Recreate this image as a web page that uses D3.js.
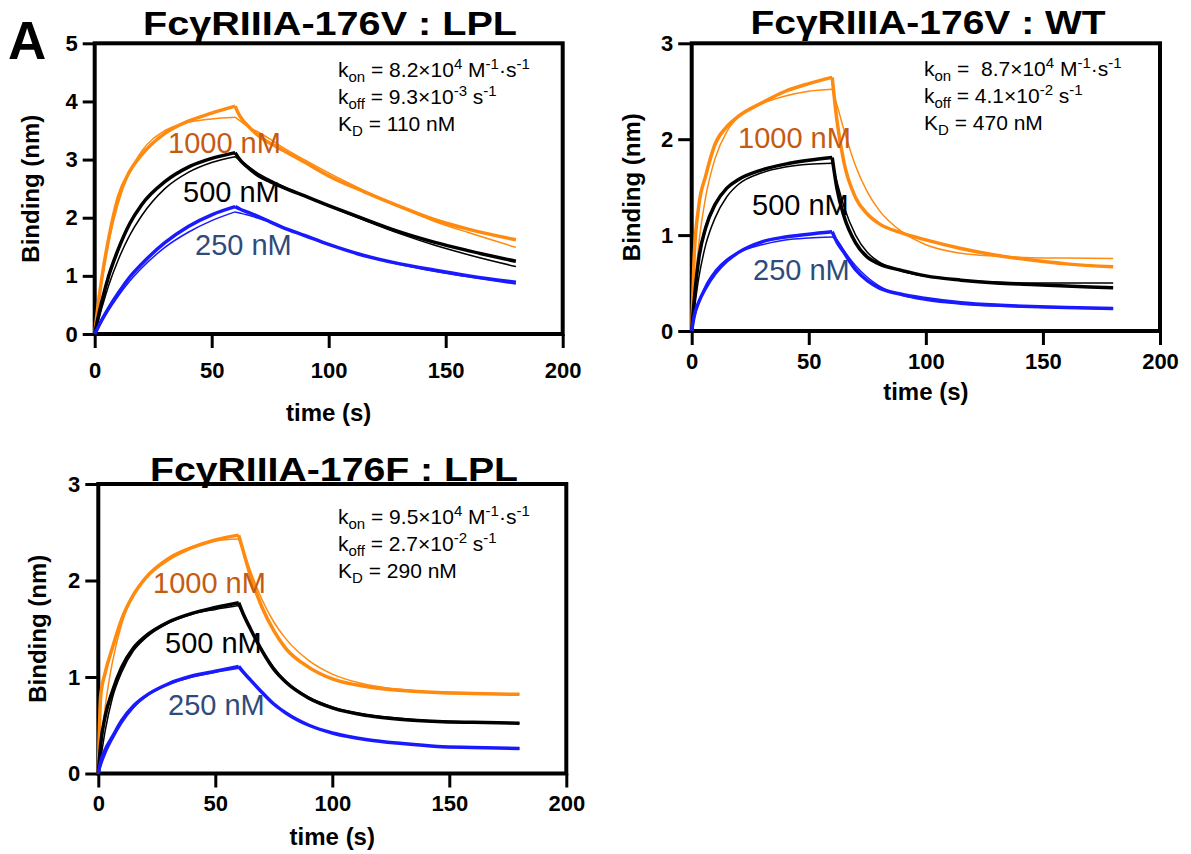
<!DOCTYPE html>
<html>
<head>
<meta charset="utf-8">
<script src="https://cdn.jsdelivr.net/npm/d3@7"></script>
<style>
  body { margin: 0; background: #fff; }
  text { font-family: "Liberation Sans", Arial, sans-serif; }
</style>
</head>
<body>
<script>
// sampling times (s); index 10 is the switch from association to dissociation
const times = [0, 1, 3, 6, 10, 15, 20, 30, 40, 50, 60, 62, 65, 70, 75, 80, 90, 100, 115, 130, 145, 160, 180];

// FcgRIIIA-176V : LPL
const vLpl1000 = [0, 0.35, 0.95, 1.65, 2.35, 2.8, 3.08, 3.45, 3.66, 3.8, 3.92, 3.75, 3.6, 3.41, 3.28, 3.17, 2.95, 2.72, 2.45, 2.2, 1.97, 1.8, 1.62];
const vLpl1000Fit = [0, 0.33, 0.9, 1.58, 2.24, 2.79, 3.14, 3.5, 3.64, 3.7, 3.73, 3.67, 3.58, 3.47, 3.35, 3.22, 2.99, 2.77, 2.47, 2.19, 1.94, 1.74, 1.49];
const vLpl500 = [0, 0.2, 0.55, 1.0, 1.45, 1.9, 2.22, 2.62, 2.87, 3.02, 3.12, 3.0, 2.88, 2.72, 2.62, 2.53, 2.37, 2.21, 1.98, 1.76, 1.58, 1.43, 1.25];
const vLpl500Fit = [0, 0.15, 0.44, 0.84, 1.27, 1.7, 2.03, 2.5, 2.78, 2.95, 3.05, 2.99, 2.9, 2.76, 2.65, 2.55, 2.37, 2.2, 1.96, 1.73, 1.53, 1.36, 1.16];
const vLpl250 = [0, 0.08, 0.24, 0.45, 0.7, 0.98, 1.2, 1.57, 1.85, 2.05, 2.19, 2.15, 2.1, 2.02, 1.93, 1.84, 1.69, 1.54, 1.35, 1.21, 1.1, 1.0, 0.89];
const vLpl250Fit = [0, 0.07, 0.21, 0.41, 0.65, 0.91, 1.13, 1.49, 1.75, 1.95, 2.1, 2.08, 2.05, 1.99, 1.92, 1.84, 1.69, 1.54, 1.36, 1.2, 1.08, 0.98, 0.86];

// FcgRIIIA-176V : WT
const vWt1000 = [0, 0.75, 1.3, 1.62, 1.95, 2.13, 2.24, 2.38, 2.5, 2.58, 2.645, 2.2, 1.76, 1.39, 1.22, 1.12, 1.02, 0.95, 0.86, 0.79, 0.74, 0.7, 0.67];
const vWt1000Fit = [0, 0.35, 0.9, 1.4, 1.8, 2.08, 2.23, 2.37, 2.45, 2.5, 2.52, 2.36, 2.1, 1.72, 1.45, 1.26, 1.03, 0.9, 0.81, 0.78, 0.765, 0.76, 0.755];
const vWt500 = [0, 0.3, 0.75, 1.08, 1.32, 1.49, 1.58, 1.68, 1.74, 1.78, 1.81, 1.49, 1.2, 0.92, 0.77, 0.7, 0.63, 0.575, 0.53, 0.5, 0.485, 0.47, 0.45];
const vWt500Fit = [0, 0.2, 0.55, 0.9, 1.18, 1.4, 1.53, 1.65, 1.71, 1.74, 1.75, 1.56, 1.3, 1.0, 0.82, 0.72, 0.62, 0.57, 0.53, 0.51, 0.5, 0.5, 0.5];
const vWt250 = [0, 0.15, 0.3, 0.45, 0.6, 0.73, 0.82, 0.93, 0.98, 1.01, 1.035, 0.93, 0.82, 0.64, 0.525, 0.45, 0.38, 0.34, 0.295, 0.27, 0.255, 0.245, 0.235];
const vWt250Fit = [0, 0.12, 0.3, 0.48, 0.63, 0.75, 0.82, 0.9, 0.95, 0.97, 0.98, 0.95, 0.84, 0.68, 0.56, 0.47, 0.37, 0.32, 0.28, 0.26, 0.25, 0.24, 0.235];

// FcgRIIIA-176F : LPL
const fLpl1000 = [0, 0.8, 1.05, 1.3, 1.6, 1.85, 2.02, 2.22, 2.34, 2.42, 2.47, 2.3, 2.05, 1.72, 1.48, 1.3, 1.1, 0.98, 0.9, 0.86, 0.84, 0.83, 0.82];
const fLpl1000Fit = [0, 0.25, 0.7, 1.15, 1.55, 1.85, 2.03, 2.24, 2.35, 2.41, 2.43, 2.3, 2.1, 1.8, 1.57, 1.4, 1.17, 1.03, 0.92, 0.87, 0.84, 0.83, 0.82];
const fLpl500 = [0, 0.3, 0.6, 0.85, 1.1, 1.3, 1.42, 1.57, 1.66, 1.72, 1.77, 1.65, 1.5, 1.27, 1.08, 0.95, 0.78, 0.68, 0.6, 0.56, 0.54, 0.53, 0.52];
const fLpl500Fit = [0, 0.15, 0.45, 0.78, 1.05, 1.27, 1.4, 1.56, 1.65, 1.7, 1.74, 1.64, 1.5, 1.28, 1.1, 0.96, 0.79, 0.69, 0.61, 0.57, 0.54, 0.53, 0.52];
const fLpl250 = [0, 0.12, 0.25, 0.38, 0.55, 0.7, 0.8, 0.93, 1.01, 1.06, 1.11, 1.05, 0.97, 0.84, 0.72, 0.63, 0.5, 0.42, 0.35, 0.31, 0.28, 0.27, 0.26];
const fLpl250Fit = [0, 0.07, 0.2, 0.35, 0.52, 0.68, 0.79, 0.92, 1.0, 1.05, 1.09, 1.04, 0.97, 0.84, 0.72, 0.63, 0.5, 0.42, 0.35, 0.31, 0.28, 0.27, 0.26];

const xTicks = [0, 50, 100, 150, 200];
const concLabels = ["1000 nM", "500 nM", "250 nM"];
const titles = ["FcγRIIIA-176V : LPL", "FcγRIIIA-176V : WT", "FcγRIIIA-176F : LPL"];
const kinetics = [
  [[["k"], ["on", "sub"], [" = 8.2×10"], ["4", "sup"], [" M"], ["-1", "sup"], ["·s"], ["-1", "sup"]],
   [["k"], ["off", "sub"], [" = 9.3×10"], ["-3", "sup"], [" s"], ["-1", "sup"]],
   [["K"], ["D", "sub"], [" = 110 nM"]]],
  [[["k"], ["on", "sub"], [" =  8.7×10"], ["4", "sup"], [" M"], ["-1", "sup"], ["·s"], ["-1", "sup"]],
   [["k"], ["off", "sub"], [" = 4.1×10"], ["-2", "sup"], [" s"], ["-1", "sup"]],
   [["K"], ["D", "sub"], [" = 470 nM"]]],
  [[["k"], ["on", "sub"], [" = 9.5×10"], ["4", "sup"], [" M"], ["-1", "sup"], ["·s"], ["-1", "sup"]],
   [["k"], ["off", "sub"], [" = 2.7×10"], ["-2", "sup"], [" s"], ["-1", "sup"]],
   [["K"], ["D", "sub"], [" = 290 nM"]]]
];

const orange = "#ff8a10", black = "#000", blue = "#1a1aff";
const labelColors = ["#c55a11", "#000", "#2f4b7c"];

const panels = [
  { left: 94.7, right: 562.7, top: 43.3, bottom: 334, ymax: 5, ytick: 12, xpad: 14,
    titleX: 330, titleY: 35, titleW: 374, timeY: 421, yLabX: 39,
    annX: 338, annY: 77, labels: [[168, 153], [183, 202], [195, 255]],
    series: [[vLpl1000, vLpl1000Fit], [vLpl500, vLpl500Fit], [vLpl250, vLpl250Fit]] },
  { left: 691.7, right: 1160, top: 43.3, bottom: 331, ymax: 3, ytick: 13.5, xpad: 8,
    titleX: 928, titleY: 34, titleW: 355, timeY: 400, yLabX: 640,
    annX: 924, annY: 76, labels: [[738, 148], [752, 215], [753, 280]],
    series: [[vWt1000, vWt1000Fit], [vWt500, vWt500Fit], [vWt250, vWt250Fit]] },
  { left: 98.3, right: 566.3, top: 484, bottom: 773.5, ymax: 3, ytick: 13, xpad: 8,
    titleX: 334, titleY: 481, titleW: 368, timeY: 845, yLabX: 46,
    annX: 338, annY: 524, labels: [[153, 593], [165, 653], [168, 715]],
    series: [[fLpl1000, fLpl1000Fit], [fLpl500, fLpl500Fit], [fLpl250, fLpl250Fit]] }
];

const svg = d3.select("body").append("svg")
  .attr("width", 1191)
  .attr("height", 854);

// panel letter
svg.append("text").attr("x", 8).attr("y", 59)
  .style("font-size", "53px").style("font-weight", "bold").text("A");

function richLine(g, x, y, parts) {
  const t = g.append("text").attr("x", x).attr("y", y)
    .style("font-size", "21px").style("white-space", "pre");
  let shift = 0;
  parts.forEach(function(p) {
    const target = p[1] === "sub" ? 5 : p[1] === "sup" ? -8 : 0;
    t.append("tspan")
      .attr("dy", target - shift)
      .style("font-size", p[1] ? "15px" : "21px")
      .text(p[0]);
    shift = target;
  });
}

const colors = [orange, black, blue];

panels.forEach(function(p, pi) {
  const g = svg.append("g");
  const x = d3.scaleLinear().domain([0, 200]).range([p.left, p.right]);
  const y = d3.scaleLinear().domain([0, p.ymax]).range([p.bottom, p.top]);

  // axes
  const xAxis = g.append("g").attr("transform", "translate(0," + p.bottom + ")")
    .call(d3.axisBottom(x).tickValues(xTicks).tickSize(14).tickPadding(p.xpad));
  const yAxis = g.append("g").attr("transform", "translate(" + p.left + ",0)")
    .call(d3.axisLeft(y).ticks(p.ymax).tickSize(p.ytick).tickPadding(5).tickFormat(d3.format("d")));
  [xAxis, yAxis].forEach(function(a) {
    a.select(".domain").remove();
    a.selectAll(".tick line").attr("stroke", "#000").attr("stroke-width", 3);
    a.selectAll(".tick text").attr("fill", "#000")
      .style("font-size", "22px").style("font-weight", "bold")
      .style("font-family", "'Liberation Sans', Arial, sans-serif");
  });

  // frame
  g.append("rect")
    .attr("x", p.left).attr("y", p.top)
    .attr("width", p.right - p.left).attr("height", p.bottom - p.top)
    .attr("fill", "none").attr("stroke", "#000").attr("stroke-width", 4);

  // curves: association and dissociation phases drawn separately
  const line = d3.line()
    .x(function(d) { return x(d[0]); })
    .y(function(d) { return y(d[1]); })
    .curve(d3.curveMonotoneX);

  p.series.forEach(function(s, si) {
    s.forEach(function(vals, k) {
      const pts = times.map(function(t, i) { return [t, vals[i]]; });
      [pts.slice(0, 11), pts.slice(10)].forEach(function(seg) {
        g.append("path")
          .attr("d", line(seg))
          .attr("fill", "none")
          .attr("stroke", colors[si])
          .attr("stroke-width", k === 0 ? 3.5 : 1.5)
          .attr("stroke-linejoin", "round");
      });
    });
  });

  // concentration labels
  p.labels.forEach(function(pos, li) {
    g.append("text").attr("x", pos[0]).attr("y", pos[1])
      .attr("fill", labelColors[li])
      .style("font-size", "29px").text(concLabels[li]);
  });

  // kinetics annotation
  kinetics[pi].forEach(function(parts, li) {
    richLine(g, p.annX, p.annY + li * 27, parts);
  });

  // title
  g.append("text").attr("x", p.titleX).attr("y", p.titleY)
    .attr("text-anchor", "middle")
    .attr("textLength", p.titleW).attr("lengthAdjust", "spacingAndGlyphs")
    .style("font-size", "33px").style("font-weight", "bold")
    .text(titles[pi]);

  // axis titles
  g.append("text").attr("x", (p.left + p.right) / 2).attr("y", p.timeY)
    .attr("text-anchor", "middle")
    .style("font-size", "24px").style("font-weight", "bold")
    .text("time (s)");
  g.append("text")
    .attr("transform", "translate(" + p.yLabX + "," + ((p.top + p.bottom) / 2) + ") rotate(-90)")
    .attr("text-anchor", "middle")
    .style("font-size", "24px").style("font-weight", "bold")
    .text("Binding (nm)");
});
</script>
</body>
</html>
